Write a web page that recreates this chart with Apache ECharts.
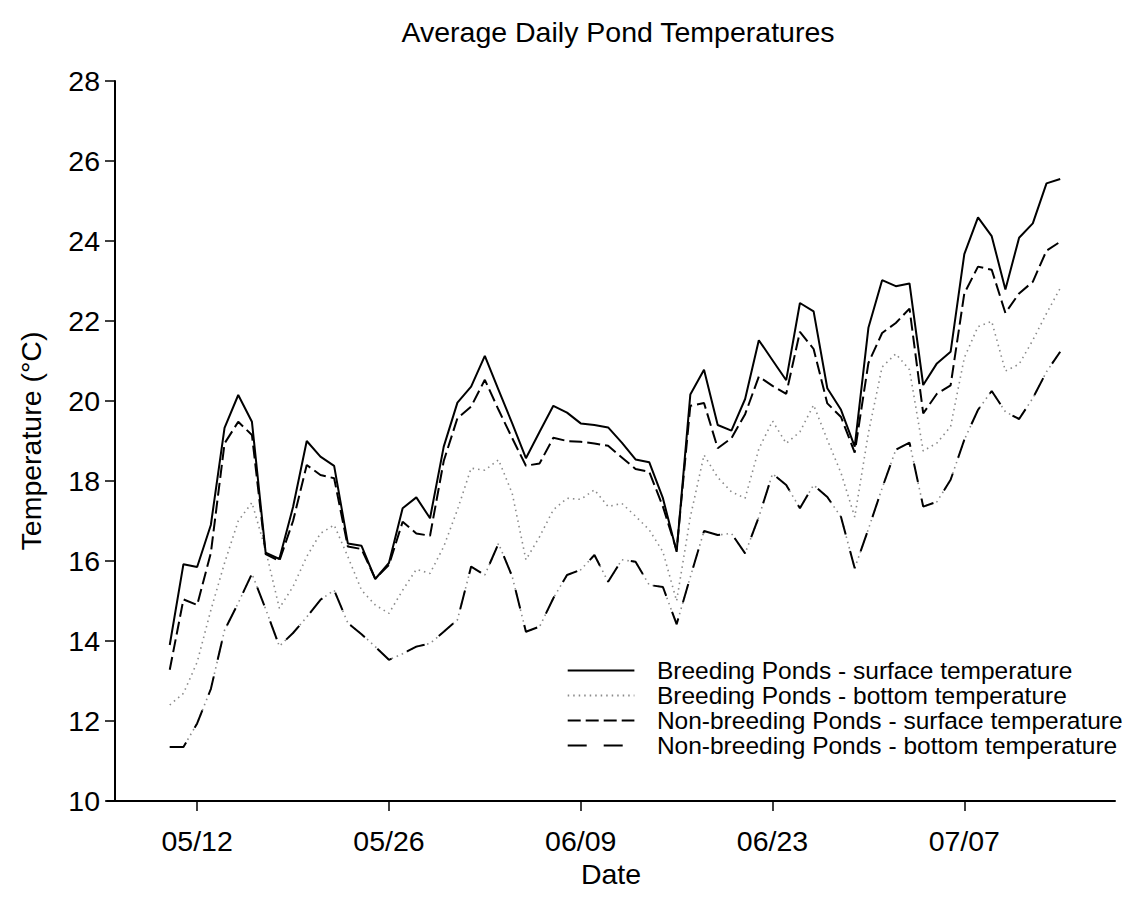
<!DOCTYPE html>
<html>
<head>
<meta charset="utf-8">
<script src="https://cdn.jsdelivr.net/npm/echarts@6/dist/echarts.min.js"></script>
<style>
html,body{margin:0;padding:0;background:#fff;overflow:hidden}
#chart{width:1126px;height:911px}
</style>
</head>
<body>
<div id="chart"></div>
<script>
const dates = ['05/10','05/11','05/12','05/13','05/14','05/15','05/16','05/17','05/18','05/19',
  '05/20','05/21','05/22','05/23','05/24','05/25','05/26','05/27','05/28','05/29',
  '05/30','05/31','06/01','06/02','06/03','06/04','06/05','06/06','06/07','06/08',
  '06/09','06/10','06/11','06/12','06/13','06/14','06/15','06/16','06/17','06/18',
  '06/19','06/20','06/21','06/22','06/23','06/24','06/25','06/26','06/27','06/28',
  '06/29','06/30','07/01','07/02','07/03','07/04','07/05','07/06','07/07','07/08',
  '07/09','07/10','07/11','07/12','07/13','07/14'];
const tickLabels = ['05/12','05/26','06/09','06/23','07/07'];

const breedingSurface = [13.9,15.92,15.85,16.9,19.33,20.15,19.48,16.21,16.05,17.35,
  19.0,18.61,18.38,16.44,16.38,15.55,15.95,17.32,17.59,17.07,
  18.86,19.96,20.36,21.13,20.28,19.44,18.57,19.23,19.88,19.71,
  19.44,19.40,19.34,18.96,18.54,18.47,17.57,16.23,20.16,20.78,
  19.4,19.26,20.05,21.52,21.02,20.52,22.45,22.24,20.32,19.78,
  18.86,21.83,23.02,22.87,22.94,20.4,20.94,21.23,23.67,24.59,
  24.12,22.79,24.08,24.44,25.44,25.55];
const breedingBottom = [12.4,12.69,13.47,14.77,15.95,17.0,17.46,16.27,14.82,15.36,
  16.11,16.69,16.9,16.11,15.27,14.9,14.69,15.27,15.79,15.69,
  16.36,17.28,18.32,18.27,18.53,17.69,16.03,16.61,17.28,17.57,
  17.54,17.78,17.36,17.44,17.12,16.78,16.23,15.0,17.1,18.65,
  18.09,17.73,17.57,18.8,19.5,18.94,19.23,19.9,19.03,18.2,
  17.1,19.2,20.85,21.18,20.78,18.75,18.95,19.36,21.08,21.86,
  21.99,20.75,20.92,21.52,22.19,22.82];
const nonBreedingSurface = [13.28,15.04,14.9,16.2,18.94,19.48,19.15,16.17,16.0,17.0,
  18.4,18.15,18.07,16.36,16.3,15.56,15.9,16.98,16.69,16.63,
  18.5,19.57,19.86,20.53,19.78,19.07,18.38,18.44,19.08,19.0,
  18.98,18.94,18.88,18.59,18.3,18.23,17.36,16.27,19.88,19.95,
  18.82,19.07,19.67,20.61,20.38,20.18,21.73,21.3,19.94,19.6,
  18.71,20.95,21.7,21.95,22.31,19.69,20.18,20.39,22.69,23.36,
  23.28,22.2,22.69,22.98,23.76,23.98];
const nonBreedingBottom = [11.35,11.35,11.94,12.8,14.27,14.95,15.68,14.8,13.87,14.2,
  14.6,15.03,15.27,14.45,14.17,13.86,13.53,13.68,13.86,13.94,
  14.23,14.53,15.86,15.65,16.44,15.61,14.23,14.36,15.07,15.65,
  15.78,16.15,15.48,16.03,15.98,15.4,15.35,14.42,15.6,16.75,
  16.65,16.69,16.19,17.1,18.18,17.9,17.32,17.9,17.6,17.1,
  15.82,16.8,17.82,18.78,18.96,17.36,17.48,18.03,19.03,19.78,
  20.25,19.73,19.55,20.07,20.73,21.23];

const names = ['Breeding Ponds - surface temperature','Breeding Ponds - bottom temperature',
  'Non-breeding Ponds - surface temperature','Non-breeding Ponds - bottom temperature'];

const toXY = arr => arr.map((v, i) => [i, v]);
const tickVals = tickLabels.map(t => dates.indexOf(t));
const FONT = 'Liberation Sans, Arial, Helvetica, sans-serif';

const chart = echarts.init(document.getElementById('chart'), null, {renderer: 'svg'});
chart.setOption({
  animation: false,
  backgroundColor: '#fff',
  color: ['#000', '#8a8a8a', '#000', '#8a8a8a', '#000'],
  textStyle: {fontFamily: FONT, color: '#000'},
  title: {
    text: 'Average Daily Pond Temperatures',
    left: 613, top: 12, textAlign: 'center',
    textStyle: {fontSize: 28.5, fontWeight: 'normal', color: '#000', fontFamily: FONT}
  },
  grid: {left: 107, right: 11, top: 81, bottom: 110, containLabel: false},
  legend: {
    orient: 'vertical', left: 566.7, top: 658, padding: 0, itemGap: 0,
    itemWidth: 66.7, itemHeight: 14,
    itemStyle: {opacity: 0},
    textStyle: {fontSize: 24.5, lineHeight: 22.8, color: '#000', fontFamily: FONT, padding: [0, 0, 0, 17.5]},
    data: names
  },
  xAxis: {
    type: 'value', min: -4.58, max: 69.0,
    name: 'Date', nameLocation: 'middle', nameGap: 52,
    nameTextStyle: {fontSize: 28.5, color: '#000', fontFamily: FONT},
    axisLine: {show: true, onZero: false, lineStyle: {color: '#000', width: 2}},
    axisTick: {show: true, length: 10, lineStyle: {color: '#000', width: 1.5}, customValues: tickVals},
    axisLabel: {fontSize: 28.5, color: '#000', margin: 25, fontFamily: FONT, customValues: tickVals,
      formatter: v => tickLabels[tickVals.indexOf(v)] || ''},
    splitLine: {show: false}
  },
  yAxis: {
    type: 'value', min: 10, max: 28, interval: 2, offset: -8,
    name: 'Temperature (°C)', nameLocation: 'middle', nameGap: 70,
    nameTextStyle: {fontSize: 28.5, color: '#000', fontFamily: FONT},
    axisLine: {show: true, onZero: false, lineStyle: {color: '#000', width: 2}},
    axisTick: {show: true, length: 10, lineStyle: {color: '#000', width: 1.5}},
    axisLabel: {fontSize: 28.5, color: '#000', margin: 15, fontFamily: FONT},
    splitLine: {show: false}
  },
  series: [
    {name: names[0], type: 'line', symbol: 'none', data: toXY(breedingSurface),
      itemStyle: {color: '#000'},
      lineStyle: {color: '#000', width: 2, type: 'solid'}, z: 5},
    {name: names[1], type: 'line', symbol: 'none', data: toXY(breedingBottom),
      itemStyle: {color: '#8a8a8a'},
      lineStyle: {color: '#8a8a8a', width: 1.6, type: [1.5, 4]}, z: 3},
    {name: names[2], type: 'line', symbol: 'none', data: toXY(nonBreedingSurface),
      itemStyle: {color: '#000'},
      lineStyle: {color: '#000', width: 2, type: [13, 5]}, z: 4},
    {name: '_nbb_dots', type: 'line', symbol: 'none', data: toXY(nonBreedingBottom),
      itemStyle: {color: '#8a8a8a'},
      lineStyle: {color: '#8a8a8a', width: 1.6, type: [1.5, 4]}, z: 2, silent: true},
    {name: names[3], type: 'line', symbol: 'none', data: toXY(nonBreedingBottom),
      itemStyle: {color: '#000'},
      lineStyle: {color: '#000', width: 2, type: [19, 17]}, z: 4}
  ]
});
</script>
</body>
</html>
